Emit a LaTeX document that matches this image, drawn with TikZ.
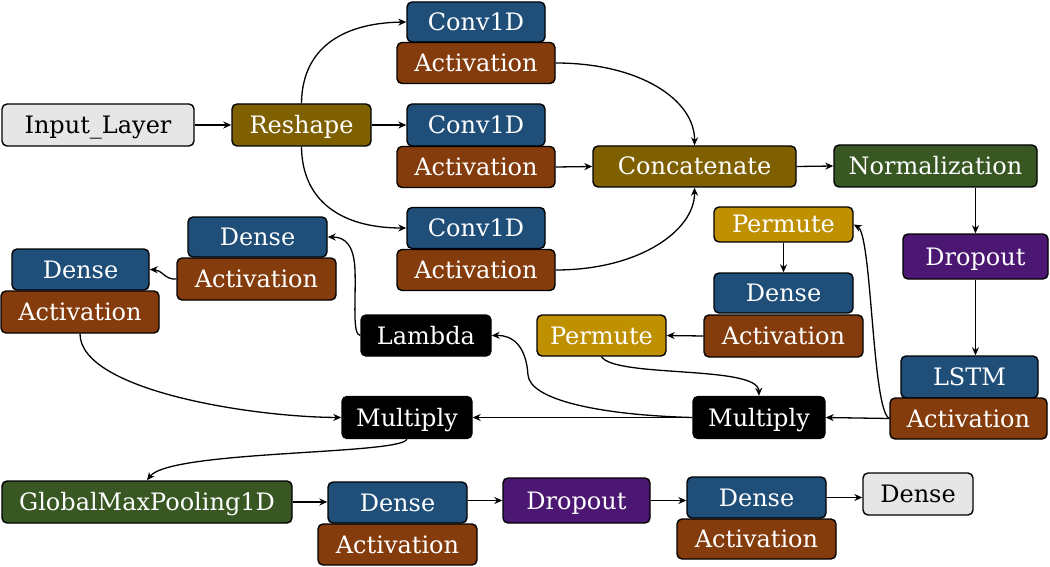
\documentclass[tikz,border=0pt]{standalone}
\usepackage{fontspec}
\setmainfont{DejaVu Serif}
\usetikzlibrary{arrows.meta}
\definecolor{cblue}{HTML}{1F4E79}
\definecolor{cbrown}{HTML}{843C0C}
\definecolor{colive}{HTML}{7F6000}
\definecolor{cgold}{HTML}{BF9000}
\definecolor{cgreen}{HTML}{385723}
\definecolor{cpurple}{HTML}{4B1772}
\definecolor{cgray}{HTML}{E7E6E6}
\tikzset{
  lay/.style={draw=black, line width=1.4pt, rounded corners=5pt, inner sep=0pt,
    text=white, font=\fontsize{24}{26}\selectfont, text height=17pt, text depth=0pt},
  blue/.style={lay, fill=cblue},
  act/.style={lay, fill=cbrown},
  olive/.style={lay, fill=colive},
  gold/.style={lay, fill=cgold},
  green/.style={lay, fill=cgreen},
  purp/.style={lay, fill=cpurple},
  blk/.style={lay, fill=black},
  gry/.style={lay, fill=cgray, text=black},
  conn/.style={line width=1.3pt, -{Stealth[length=8pt,width=7pt]}},
}
\begin{document}
\begin{tikzpicture}[x=1pt,y=-1pt]
\useasboundingbox (0,0) rectangle (1050,567);
% top area
\node[gry, minimum width=192pt, minimum height=42pt] (inp) at (98,125) {Input\_Layer};
\node[olive, minimum width=139pt, minimum height=42pt] (resh) at (301.5,125) {Reshape};
\node[blue, minimum width=138pt, minimum height=40pt] (c1) at (476,22) {Conv1D};
\node[act, minimum width=158pt, minimum height=41pt] (a1) at (476,63) {Activation};
\node[blue, minimum width=138pt, minimum height=42pt] (c2) at (476,125) {Conv1D};
\node[act, minimum width=158pt, minimum height=41pt] (a2) at (476,167) {Activation};
\node[blue, minimum width=138pt, minimum height=41pt] (c3) at (476,228) {Conv1D};
\node[act, minimum width=158pt, minimum height=41pt] (a3) at (476,270) {Activation};
\node[olive, minimum width=203pt, minimum height=41pt] (concat) at (694.5,166.5) {Concatenate};
\node[green, minimum width=203pt, minimum height=42pt] (norm) at (935.5,166) {Normalization};
\node[purp, minimum width=145pt, minimum height=45pt] (drop1) at (975.5,256.5) {Dropout};
\node[blue, minimum width=137pt, minimum height=42pt] (lstm) at (969.5,377) {LSTM};
\node[act, minimum width=157pt, minimum height=41pt] (alstm) at (968.5,418.5) {Activation};
\node[gold, minimum width=139pt, minimum height=35pt] (perm1) at (783.5,224.5) {Permute};
\node[blue, minimum width=139pt, minimum height=40pt] (d3) at (783.5,293) {Dense};
\node[act, minimum width=159pt, minimum height=42pt] (ad3) at (783.5,336) {Activation};
\node[gold, minimum width=129pt, minimum height=41pt] (perm2) at (601.5,335.5) {Permute};
\node[blk, minimum width=130pt, minimum height=41pt] (lambda) at (426,335.5) {Lambda};
\node[blk, minimum width=130pt, minimum height=42pt] (mul1) at (407,417.5) {Multiply};
\node[blk, minimum width=132pt, minimum height=42pt] (mul2) at (759,417.5) {Multiply};
\node[blue, minimum width=139pt, minimum height=40pt] (d2) at (257.5,237) {Dense};
\node[act, minimum width=159pt, minimum height=42pt] (ad2) at (256.5,279) {Activation};
\node[blue, minimum width=137pt, minimum height=41pt] (d1) at (80.5,269.5) {Dense};
\node[act, minimum width=158pt, minimum height=42pt] (ad1) at (80,312) {Activation};
% bottom row
\node[green, minimum width=290pt, minimum height=42pt] (gmp) at (147,502) {GlobalMaxPooling1D};
\node[blue, minimum width=139pt, minimum height=41pt] (d4) at (397.5,502.5) {Dense};
\node[act, minimum width=159pt, minimum height=41pt] (ad4) at (397.5,544.5) {Activation};
\node[purp, minimum width=147pt, minimum height=45pt] (drop2) at (576.5,500.5) {Dropout};
\node[blue, minimum width=139pt, minimum height=41pt] (d5) at (756.5,497.5) {Dense};
\node[act, minimum width=159pt, minimum height=40pt] (ad5) at (756.5,539) {Activation};
\node[gry, minimum width=110pt, minimum height=42pt] (dout) at (918,494) {Dense};
% connectors
\draw[conn] (inp.east) -- (resh.west);
\draw[conn] (resh.north) .. controls (302,50) and (340,23) .. (c1.west);
\draw[conn] (resh.east) -- (c2.west);
\draw[conn] (resh.south) .. controls (302,200) and (340,228) .. (c3.west);
\draw[conn] (a1.east) .. controls (640,63) and (695,100) .. (concat.north);
\draw[conn] (a2.east) -- (concat.west);
\draw[conn] (a3.east) .. controls (640,270) and (695,230) .. (concat.south);
\draw[conn] (concat.east) -- (norm.west);
\draw[conn] (drop1.north |- norm.south) -- (drop1.north);
\draw[conn] (drop1.south) -- (drop1.south |- lstm.north);
\draw[conn] (alstm.west) -- (mul2.east);
\draw[conn] (alstm.west) .. controls (872,410) and (872,235) .. (perm1.east);
\draw[conn] (perm1.south) -- (d3.north);
\draw[conn] (ad3.west) -- (perm2.east);
\draw[conn] (perm2.south) .. controls (615,378) and (758,365) .. (mul2.north);
\draw[conn] (mul2.west) -- (mul1.east);
\draw[conn] (mul2.west) .. controls (600,415) and (530,400) .. (528,375) .. controls (526,345) and (512,335) .. (lambda.east);
\draw[conn] (lambda.west) .. controls (352,335) and (356,300) .. (355,270) .. controls (354,245) and (345,237) .. (d2.east);
\draw[conn] (ad2.west) .. controls (165,280) and (162,270) .. (d1.east);
\draw[conn] (ad1.south) .. controls (80,390) and (250,417) .. (mul1.west);
\draw[conn] (mul1.south) .. controls (400,455) and (170,450) .. (gmp.north);
\draw[conn] (gmp.east) -- (gmp.east -| d4.west);
\draw[conn] (drop2.west -| d4.east) -- (drop2.west);
\draw[conn] (drop2.east) -- (drop2.east -| d5.west);
\draw[conn] (d5.east) -- (d5.east -| dout.west);
\end{tikzpicture}
\end{document}
